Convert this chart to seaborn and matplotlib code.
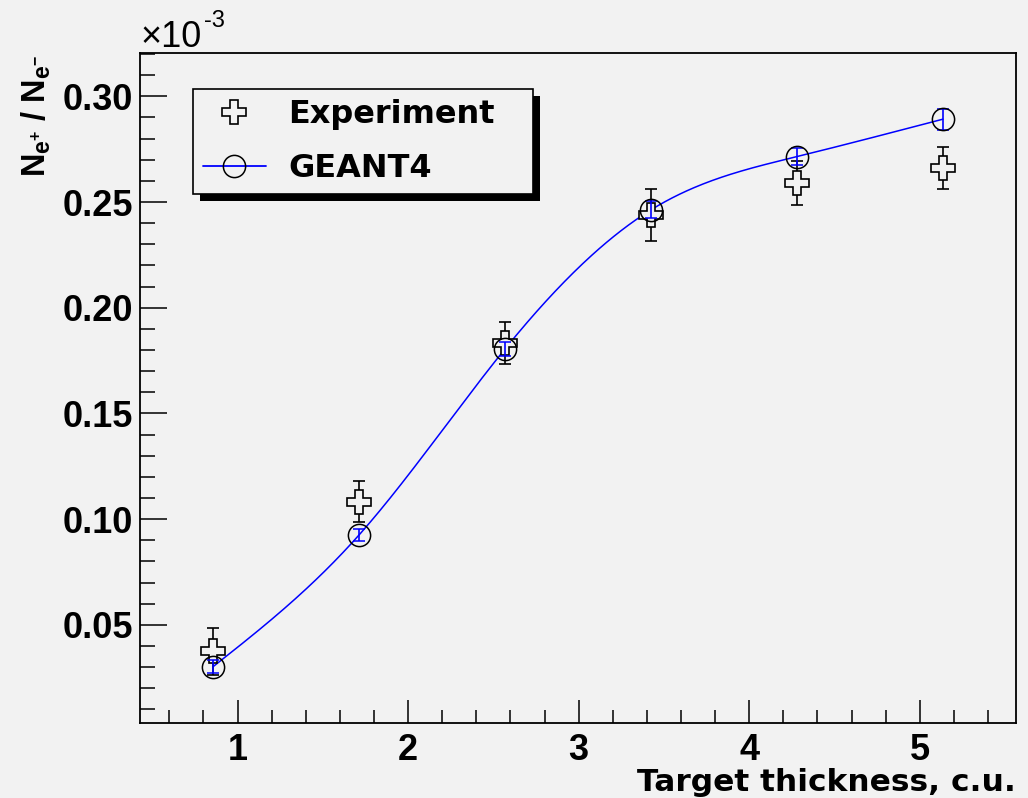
import numpy as np
import pandas as pd
import seaborn as sns
import matplotlib
matplotlib.use("Agg")
import matplotlib.pyplot as plt
from matplotlib.lines import Line2D
from matplotlib.patches import Rectangle
from matplotlib.transforms import IdentityTransform
from matplotlib.ticker import MultipleLocator, FormatStrFormatter

# Positron yield per electron (units of 1e-3) versus target thickness
thickness = [0.856, 1.712, 2.568, 3.424, 4.280, 5.136]
exp_ratio = [0.0375, 0.1083, 0.1833, 0.2439, 0.2589, 0.2660]
exp_err = [0.0112, 0.0098, 0.0100, 0.0122, 0.0103, 0.0100]
g4_ratio = [0.0302, 0.0925, 0.1805, 0.2463, 0.2715, 0.2892]
g4_err = [0.0030, 0.0030, 0.0035, 0.0040, 0.0040, 0.0050]

BG = "#f2f2f2"
BLUE = "#0000ff"
sns.set_theme(style="ticks")
plt.rcParams["font.family"] = ["Liberation Sans", "DejaVu Sans"]
plt.rcParams["font.weight"] = "bold"
plt.rcParams["text.color"] = "black"
plt.rcParams["axes.labelcolor"] = "black"
plt.rcParams["xtick.color"] = "black"
plt.rcParams["ytick.color"] = "black"
plt.rcParams["mathtext.fontset"] = "custom"
plt.rcParams["mathtext.rm"] = "Liberation Sans:bold"
plt.rcParams["mathtext.bf"] = "Liberation Sans:bold"
plt.rcParams["mathtext.default"] = "regular"

df_exp = pd.DataFrame({"x": thickness, "y": exp_ratio, "err": exp_err})
df_g4 = pd.DataFrame({"x": thickness, "y": g4_ratio, "err": g4_err})


def natural_spline(x, y, n=400):
    """Smooth curve through the points (natural cubic spline)."""
    x = np.asarray(x, float)
    y = np.asarray(y, float)
    k = len(x)
    h = np.diff(x)
    A = np.zeros((k, k))
    b = np.zeros(k)
    A[0, 0] = A[-1, -1] = 1.0
    for i in range(1, k - 1):
        A[i, i - 1] = h[i - 1]
        A[i, i] = 2 * (h[i - 1] + h[i])
        A[i, i + 1] = h[i]
        b[i] = 6 * ((y[i + 1] - y[i]) / h[i] - (y[i] - y[i - 1]) / h[i - 1])
    m = np.linalg.solve(A, b)
    xs = np.linspace(x[0], x[-1], n)
    idx = np.clip(np.searchsorted(x, xs) - 1, 0, k - 2)
    x0, x1 = x[idx], x[idx + 1]
    hh = x1 - x0
    t0 = x1 - xs
    t1 = xs - x0
    ys = (m[idx] * t0 ** 3 + m[idx + 1] * t1 ** 3) / (6 * hh) \
        + (y[idx] / hh - m[idx] * hh / 6) * t0 \
        + (y[idx + 1] / hh - m[idx + 1] * hh / 6) * t1
    return xs, ys


fig = plt.figure(figsize=(10.28, 7.98), dpi=100, facecolor=BG)
ax = fig.add_axes([0.1362, 0.0940, 0.8521, 0.8396])
ax.set_facecolor(BG)

# GEANT4 smooth curve
cx, cy = natural_spline(df_g4["x"], df_g4["y"])
sns.lineplot(x=cx, y=cy, ax=ax, color=BLUE, linewidth=1.1, sort=False,
             estimator=None, zorder=2)

# Experiment: open crosses with black error bars
ax.errorbar(df_exp["x"], df_exp["y"], yerr=df_exp["err"], fmt="P",
            markersize=17, markerfacecolor=BG, markeredgecolor="black",
            markeredgewidth=1.2, ecolor="black", elinewidth=1.2, capsize=4,
            capthick=1.2, zorder=3)

# GEANT4: open circles with blue error bars
ax.errorbar(df_g4["x"], df_g4["y"], yerr=df_g4["err"], fmt="o",
            markersize=16, markerfacecolor="none", markeredgecolor="black",
            markeredgewidth=1.1, ecolor=BLUE, elinewidth=1.2, capsize=4,
            capthick=1.2, zorder=4)

ax.set_xlim(0.428, 5.564)
ax.set_ylim(0.0036, 0.3205)

ax.xaxis.set_major_locator(MultipleLocator(1))
ax.xaxis.set_minor_locator(MultipleLocator(0.2))
ax.yaxis.set_major_locator(MultipleLocator(0.05))
ax.yaxis.set_minor_locator(MultipleLocator(0.01))
ax.xaxis.set_major_formatter(FormatStrFormatter("%d"))
ax.yaxis.set_major_formatter(FormatStrFormatter("%.2f"))

ax.tick_params(axis="both", which="both", direction="in", width=1.1,
               color="black", labelcolor="black", top=False, right=False)
ax.tick_params(axis="x", which="major", length=16.5, pad=7, labelsize=26)
ax.tick_params(axis="x", which="minor", length=9.4)
ax.tick_params(axis="y", which="major", length=19.2, pad=5, labelsize=26)
ax.tick_params(axis="y", which="minor", length=10.8)
for lab in ax.get_xticklabels() + ax.get_yticklabels():
    lab.set_fontweight("bold")

for s in ax.spines.values():
    s.set_color("black")
    s.set_linewidth(1.3)

# Axis titles
ax.set_xlabel("Target thickness, c.u.", fontsize=22.5, fontweight="bold",
              family="DejaVu Sans", color="black", loc="right")
ax.xaxis.label.set_verticalalignment("baseline")
ax.xaxis.set_label_coords(1.0, -0.102)

fig.text(0.0445, 0.931, r"$N_{e^{+}}$ / $N_{e^{-}}$", fontsize=23.5,
         fontweight="bold", color="black", rotation=90, ha="right",
         va="baseline", rotation_mode="anchor")

# Exponent marker above the y axis
ax.text(0.0, 1.009, "\u00d710", transform=ax.transAxes, fontsize=26,
        fontweight="normal", color="black", ha="left", va="baseline")
ax.text(0.073, 1.039, "-3", transform=ax.transAxes, fontsize=17,
        fontweight="normal", color="black", ha="left", va="baseline")

handles = [
    Line2D([], [], linestyle="none", marker="P", markersize=17,
           markerfacecolor="none", markeredgecolor="black", markeredgewidth=1.2),
    Line2D([], [], color=BLUE, linewidth=1.3, marker="o", markersize=16,
           markerfacecolor="none", markeredgecolor="black", markeredgewidth=1.1),
]
leg = ax.legend(handles, ["Experiment", "GEANT4"], loc="upper left",
                bbox_to_anchor=(0.0605, 0.946, 0.388, 0.0), mode="expand",
                borderaxespad=0,
                prop={"weight": "bold", "size": 23, "family": "DejaVu Sans"},
                frameon=True, fancybox=False, edgecolor="black", facecolor=BG,
                framealpha=1, handlelength=1.95, handletextpad=0.72,
                borderpad=0.32, labelspacing=0.7, labelcolor="black")
leg.get_frame().set_linewidth(1.2)
leg.set_zorder(10)

# Drop shadow behind the legend box
fig.canvas.draw()
bb = leg.get_window_extent()
shadow = Rectangle((bb.x0 + 7, bb.y0 - 7), bb.width, bb.height,
                   transform=IdentityTransform(), facecolor="black",
                   edgecolor="none", zorder=9, clip_on=False)
ax.add_artist(shadow)

fig.savefig("out.png", dpi=100, facecolor=BG)
